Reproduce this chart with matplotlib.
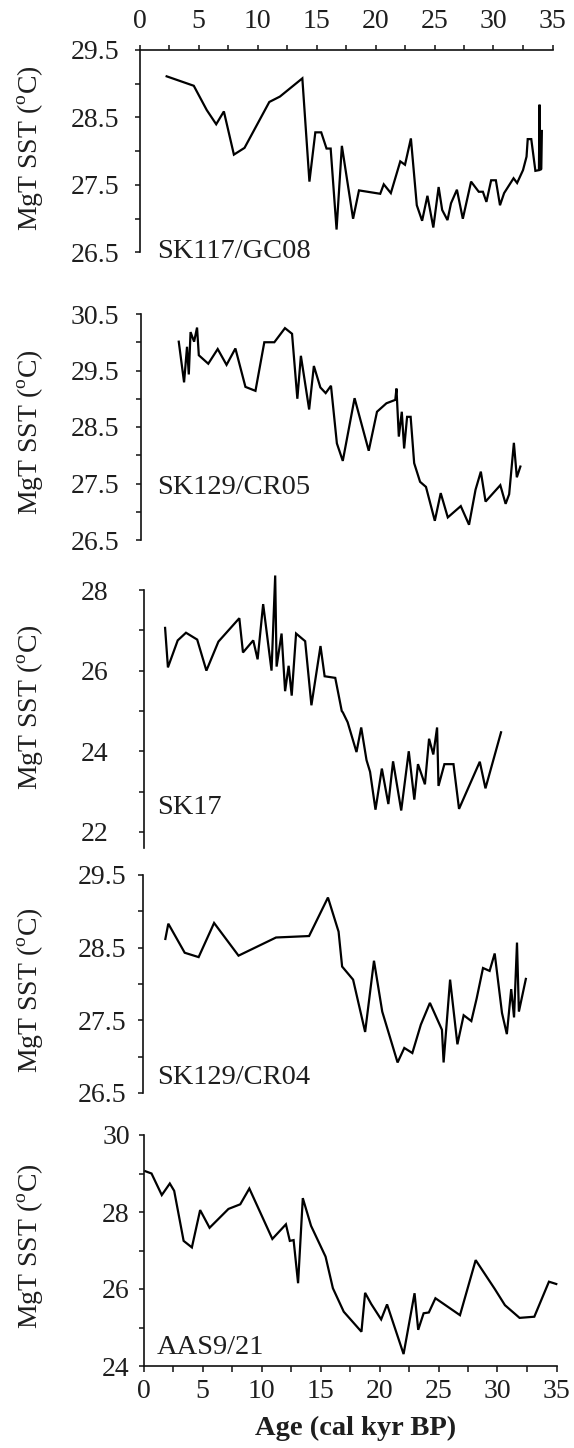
import matplotlib
matplotlib.use("Agg")
import matplotlib.pyplot as plt
from matplotlib.ticker import MultipleLocator, FixedLocator

plt.rcParams['font.family'] = ['Liberation Serif', 'DejaVu Serif']
plt.rcParams['mathtext.fontset'] = 'custom'
plt.rcParams['mathtext.rm'] = 'Liberation Serif'

# ---------------- data ----------------
core_names = ["SK117/GC08", "SK129/CR05", "SK17", "SK129/CR04", "AAS9/21"]

age1 = [2.3, 4.6, 5.7, 6.5, 7.15, 8.0, 8.9, 11.0, 11.9, 13.8, 14.4, 14.9, 15.4, 15.85,
        16.2, 16.7, 17.15, 18.1, 18.6, 20.4, 20.7, 21.3, 22.1, 22.5, 23.0, 23.5, 23.95,
        24.4, 24.9, 25.35, 25.65, 26.1, 26.4, 26.9, 27.4, 28.1, 28.75, 29.1, 29.4, 29.8,
        30.2, 30.55, 30.9, 31.7, 32.0, 32.5, 32.8, 32.9, 33.2, 33.55, 33.85, 33.9, 33.95,
        34.05, 34.1]
sst1 = [29.11, 28.97, 28.61, 28.40, 28.59, 27.95, 28.05, 28.73, 28.81, 29.08, 27.55, 28.28,
        28.28, 28.04, 28.04, 26.84, 28.08, 27.00, 27.42, 27.37, 27.51, 27.38, 27.85, 27.80,
        28.19, 27.20, 26.97, 27.34, 26.87, 27.47, 27.13, 26.98, 27.23, 27.43, 27.00, 27.55,
        27.40, 27.40, 27.25, 27.57, 27.57, 27.20, 27.38, 27.60, 27.53, 27.72, 27.92, 28.18,
        28.18, 27.71, 27.72, 28.69, 27.72, 27.74, 28.30]

age2 = [3.2, 3.65, 3.9, 4.05, 4.2, 4.5, 4.75, 4.9, 5.7, 6.5, 7.25, 8.0, 8.85, 9.7, 10.45,
        11.3, 12.2, 12.8, 13.25, 13.55, 14.25, 14.65, 15.2, 15.65, 16.1, 16.6, 17.1, 18.1,
        19.3, 20.0, 20.8, 21.55, 21.65, 21.85, 22.1, 22.3, 22.55, 22.85, 23.15, 23.65, 24.15,
        24.9, 25.4, 26.0, 27.1, 27.8, 28.35, 28.8, 29.2, 30.45, 30.9, 31.2, 31.6, 31.85, 32.15]
sst2 = [30.01, 29.29, 29.92, 29.43, 30.18, 30.01, 30.26, 29.77, 29.62, 29.88, 29.60, 29.89,
        29.21, 29.14, 30.00, 30.00, 30.25, 30.15, 29.00, 29.76, 28.81, 29.58, 29.20, 29.10,
        29.23, 28.21, 27.90, 29.01, 28.08, 28.77, 28.92, 28.98, 29.18, 28.33, 28.77, 28.12,
        28.68, 28.68, 27.86, 27.53, 27.44, 26.84, 27.33, 26.90, 27.10, 26.77, 27.39, 27.71,
        27.18, 27.47, 27.14, 27.31, 28.22, 27.61, 27.80]

age3 = [1.83, 2.07, 2.9, 3.6, 4.55, 5.33, 6.35, 8.12, 8.43, 9.3, 9.67, 10.14, 10.85, 11.16,
        11.28, 11.7, 12.0, 12.3, 12.56, 12.93, 13.7, 14.23, 15.0, 15.35, 16.25, 16.8, 16.9,
        17.3, 18.05, 18.45, 18.9, 19.2, 19.66, 20.2, 20.75, 21.15, 21.84, 22.48, 22.95, 23.26,
        23.85, 24.2, 24.56, 24.88, 25.0, 25.5, 26.27, 26.74, 28.5, 28.98, 30.3]
sst3 = [27.06, 26.08, 26.75, 26.94, 26.77, 26.00, 26.72, 27.30, 26.45, 26.75, 26.28, 27.65,
        26.00, 28.36, 26.10, 26.92, 25.49, 26.12, 25.38, 26.92, 26.73, 25.14, 26.61, 25.86,
        25.82, 25.00, 24.96, 24.72, 23.98, 24.59, 23.78, 23.49, 22.55, 23.57, 22.69, 23.75,
        22.53, 24.00, 22.80, 23.68, 23.18, 24.31, 23.92, 24.59, 23.14, 23.68, 23.68, 22.57,
        23.74, 23.08, 24.47]

age4 = [1.92, 2.17, 3.56, 4.74, 6.05, 8.12, 11.3, 14.1, 15.7, 16.6, 16.9, 17.83, 18.85,
        19.6, 20.3, 21.6, 22.17, 22.85, 23.57, 24.34, 25.36, 25.5, 26.05, 26.67, 27.2, 27.85,
        28.3, 28.84, 29.4, 29.83, 30.45, 30.86, 31.23, 31.47, 31.72, 31.88, 32.47]
sst4 = [28.62, 28.83, 28.43, 28.37, 28.84, 28.39, 28.64, 28.66, 29.19, 28.72, 28.24, 28.06,
        27.34, 28.32, 27.62, 26.92, 27.12, 27.05, 27.44, 27.74, 27.37, 26.92, 28.06, 27.17,
        27.57, 27.49, 27.80, 28.22, 28.18, 28.42, 27.60, 27.31, 27.93, 27.54, 28.57, 27.62,
        28.07]

age5 = [0.15, 0.68, 1.55, 2.23, 2.6, 3.4, 4.1, 4.8, 5.6, 7.2, 8.2, 8.97, 10.92, 12.07, 12.4,
        12.72, 13.1, 13.5, 14.2, 15.43, 16.05, 16.97, 18.47, 18.78, 19.3, 20.14, 20.64, 22.04,
        22.97, 23.28, 23.74, 24.18, 24.74, 26.82, 28.15, 29.77, 30.63, 31.87, 33.12, 34.36,
        34.98]
sst5 = [29.06, 29.00, 28.44, 28.74, 28.55, 27.25, 27.08, 28.05, 27.59, 28.08, 28.20, 28.61,
        27.30, 27.68, 27.25, 27.27, 26.15, 28.36, 27.64, 26.84, 26.02, 25.41, 24.89, 25.90,
        25.61, 25.21, 25.60, 24.31, 25.89, 24.94, 25.37, 25.39, 25.76, 25.32, 26.75, 26.00,
        25.58, 25.25, 25.28, 26.19, 26.13]

ages = [age1, age2, age3, age4, age5]
ssts = [sst1, sst2, sst3, sst4, sst5]

ylims = [(26.5, 29.5), (26.5, 30.5), (21.6, 28.0), (26.5, 29.5), (24.0, 30.0)]
ymajor = [[26.5, 27.5, 28.5, 29.5], [26.5, 27.5, 28.5, 29.5, 30.5], [22, 24, 26, 28],
          [26.5, 27.5, 28.5, 29.5], [24, 26, 28, 30]]
yminor = [[27.0, 28.0, 29.0], [27.0, 28.0, 29.0, 30.0], [23, 25, 27],
          [27.0, 28.0, 29.0], [25, 27, 29]]
xmajor = [0, 5, 10, 15, 20, 25, 30, 35]
xminor = [2.5, 7.5, 12.5, 17.5, 22.5, 27.5, 32.5]

# ---------------- layout (pixels) ----------------
W, H = 574, 1448
fig = plt.figure(figsize=(W / 100, H / 100), dpi=100)

lefts = [139.5, 141.0, 143.5, 142.7, 143.5]
tops = [50, 314, 590, 875, 1135]
bottoms = [252.5, 540, 848, 1093, 1366]
width_px = 413
ypads = [11.0, 12.5, 22.0, 8.7, 6.6]
label_y = [252, 487, 807, 1078, 1347]
ylab_y = [148, 432, 707, 990, 1246]

TXT = '#1e1e1e'
FS = 20

for i in range(5):
    ax = fig.add_axes([lefts[i] / W, 1 - bottoms[i] / H, width_px / W,
                       (bottoms[i] - tops[i]) / H])
    ax.plot(ages[i], ssts[i], color='black', lw=1.6, clip_on=False,
            solid_joinstyle='miter')
    ax.set_xlim(0, 35)
    ax.set_ylim(*ylims[i])
    for s in ['right', 'top', 'bottom']:
        ax.spines[s].set_visible(False)
    ax.spines['left'].set_linewidth(1.2)
    ax.spines['left'].set_color('#111111')

    ax.yaxis.set_major_locator(FixedLocator(ymajor[i]))
    ax.yaxis.set_minor_locator(FixedLocator(yminor[i]))
    ax.tick_params(axis='y', which='both', direction='out', length=3.3, width=1.1,
                   color='#111111', labelsize=FS, labelcolor=TXT, pad=ypads[i])
    ax.yaxis.set_major_formatter(
        plt.FuncFormatter(lambda v, p, i=i: ('%d' % v) if i in (2, 4) else ('%.1f' % v)))

    if i == 0:
        ax.spines['top'].set_visible(True)
        ax.spines['top'].set_linewidth(1.2)
        ax.spines['top'].set_color('#111111')
        ax.xaxis.set_ticks_position('top')
        ax.xaxis.set_label_position('top')
        ax.xaxis.set_major_locator(FixedLocator(xmajor))
        ax.xaxis.set_minor_locator(FixedLocator(xminor))
        ax.tick_params(axis='x', which='both', direction='out', length=3.3, width=1.1,
                       color='#111111', labelsize=FS, labelcolor=TXT, pad=8.5)
    elif i == 4:
        ax.spines['bottom'].set_visible(True)
        ax.spines['bottom'].set_linewidth(1.2)
        ax.spines['bottom'].set_color('#111111')
        ax.xaxis.set_major_locator(FixedLocator(xmajor))
        ax.xaxis.set_minor_locator(FixedLocator(xminor))
        ax.tick_params(axis='x', which='both', direction='out', length=4.2, width=1.1,
                       color='#111111', labelsize=FS, labelcolor=TXT, pad=5.5)
    else:
        ax.set_xticks([])
        ax.tick_params(axis='x', which='both', length=0)

    fig.text(157 / W, 1 - label_y[i] / H, core_names[i], fontsize=20.5, color=TXT,
             ha='left', va='center')
    fig.text(31 / W, 1 - ylab_y[i] / H, r'MgT SST ($^{\mathrm{o}}$C)', fontsize=20,
             color=TXT, rotation=90, ha='center', va='center')

fig.text(356 / W, 1 - 1428 / H, 'Age (cal kyr BP)', fontsize=20.5, fontweight='bold',
         color=TXT, ha='center', va='center')

fig.savefig('out.png', dpi=100, facecolor='white')
